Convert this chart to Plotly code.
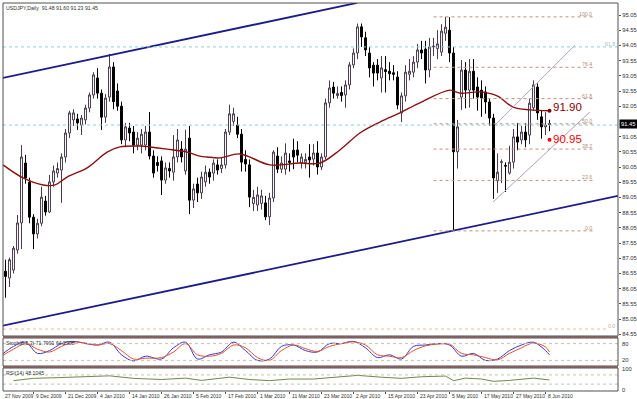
import plotly.graph_objects as go

# ---------------- data ----------------
title_text = "USDJPY,Daily  91.48 91.60 91.23 91.45"
tick_labels = ["27 Nov 2009", "9 Dec 2009", "21 Dec 2009", "4 Jan 2010", "14 Jan 2010",
               "26 Jan 2010", "5 Feb 2010", "17 Feb 2010", "1 Mar 2010", "11 Mar 2010",
               "23 Mar 2010", "2 Apr 2010", "15 Apr 2010", "23 Apr 2010", "5 May 2010",
               "17 May 2010", "27 May 2010", "8 Jun 2010"]
tick_bars = [0, 8, 16, 24, 32, 40, 48, 56, 64, 72, 80, 88, 96, 104, 112, 120, 128, 136]

opens = [86.30, 86.62, 86.40, 86.66, 87.32, 88.21, 90.18, 89.55, 88.40, 87.85,
         88.20, 88.93, 88.57, 89.56, 89.85, 89.95, 90.38, 91.17, 91.60, 91.63,
         91.43, 91.60, 91.99, 92.42, 92.98, 92.48, 91.69, 92.35, 93.34, 92.55,
         92.05, 90.94, 91.33, 91.20, 90.77, 90.77, 90.77, 91.20, 90.41, 90.20,
         90.25, 89.62, 90.00, 89.88, 90.38, 90.64, 89.92, 91.00, 88.96, 89.49,
         89.20, 89.56, 89.88, 89.85, 90.12, 90.00, 90.12, 91.20, 91.55, 91.43,
         91.13, 90.30, 90.12, 88.85, 88.80, 88.85, 88.87, 88.41, 89.03, 90.41,
         89.98, 89.98, 90.25, 90.60, 90.61, 90.18, 90.20, 90.38, 90.31, 90.51,
         90.05, 90.38, 92.16, 92.68, 92.40, 92.50, 92.42, 92.75, 93.41, 93.80,
         94.66, 94.30, 93.80, 93.40, 93.40, 92.98, 93.25, 93.20, 93.15, 93.01,
         91.83, 92.39, 93.10, 93.17, 93.50, 93.90, 93.93, 93.24, 94.00, 93.95,
         93.83, 94.45, 94.55, 93.80, 90.55, 92.35, 93.24, 92.58, 93.20, 92.68,
         92.58, 92.52, 92.19, 91.66, 89.60, 90.20, 90.10, 89.85, 90.21, 91.04,
         90.94, 91.20, 91.10, 92.00, 92.68, 91.70, 91.37, 91.48]
highs = [86.95, 87.00, 87.07, 87.45, 88.47, 90.77, 90.45, 89.70, 88.50, 88.35,
         89.40, 89.10, 89.79, 90.10, 90.20, 90.50, 91.30, 91.90, 91.95, 91.80,
         91.76, 92.10, 92.50, 93.17, 93.30, 92.60, 92.45, 93.77, 93.50, 92.80,
         92.20, 91.50, 91.50, 91.40, 91.20, 91.30, 91.40, 91.86, 90.60, 90.40,
         90.40, 90.20, 90.20, 91.10, 91.30, 90.90, 91.28, 91.40, 89.50, 89.70,
         89.90, 90.10, 90.00, 90.30, 90.30, 90.35, 91.30, 92.10, 92.00, 91.70,
         91.30, 90.60, 90.30, 89.30, 89.40, 89.30, 89.10, 89.20, 90.60, 90.70,
         90.40, 90.83, 90.50, 90.98, 90.90, 90.50, 90.50, 90.80, 90.80, 90.90,
         90.50, 92.30, 92.90, 92.85, 92.70, 92.70, 92.90, 93.50, 93.95, 94.77,
         94.77, 94.50, 94.00, 93.50, 93.60, 93.70, 93.70, 93.50, 93.40, 93.20,
         92.50, 93.40, 93.60, 93.70, 94.10, 94.20, 94.20, 94.30, 94.30, 94.55,
         94.75, 94.99, 94.98, 94.00, 91.60, 93.57, 93.50, 93.60, 93.60, 93.00,
         92.90, 92.70, 92.30, 91.80, 90.50, 90.30, 90.20, 90.75, 91.30, 91.50,
         91.40, 91.50, 92.30, 92.90, 92.80, 91.90, 91.85, 91.60]
lows = [85.80, 85.75, 86.10, 86.55, 87.20, 87.35, 89.50, 88.20, 87.35, 87.70,
        88.10, 88.45, 88.54, 89.40, 89.70, 88.87, 90.20, 91.00, 91.40, 91.27,
        91.10, 91.45, 91.85, 92.30, 92.30, 91.27, 91.50, 92.20, 91.95, 91.90,
        90.80, 90.70, 90.90, 90.50, 90.60, 90.50, 90.60, 90.30, 89.70, 89.90,
        89.13, 89.50, 89.70, 89.60, 90.20, 90.20, 89.80, 88.50, 88.70, 88.90,
        89.00, 89.40, 89.50, 89.60, 89.80, 89.85, 90.00, 91.10, 91.40, 91.00,
        89.90, 89.90, 88.73, 88.60, 88.60, 88.65, 88.30, 88.14, 88.90, 89.85,
        89.85, 89.80, 89.90, 89.98, 90.20, 90.00, 90.00, 89.70, 90.10, 89.80,
        89.95, 90.30, 92.00, 92.30, 92.30, 92.20, 92.00, 92.60, 93.30, 93.60,
        94.00, 93.70, 93.00, 92.70, 92.90, 92.50, 92.50, 92.90, 92.90, 91.95,
        91.53, 92.20, 92.90, 93.00, 93.30, 93.60, 92.80, 93.00, 93.70, 93.60,
        93.70, 94.20, 93.50, 87.95, 90.00, 91.93, 91.98, 92.00, 92.30, 91.90,
        91.70, 91.80, 91.40, 89.00, 89.20, 89.52, 89.23, 89.80, 90.00, 90.60,
        90.80, 90.70, 90.80, 91.90, 91.60, 90.98, 91.10, 91.23]
closes = [86.60, 86.45, 87.00, 87.38, 88.21, 90.38, 89.69, 88.40, 87.85, 88.20,
          89.06, 88.57, 89.56, 89.92, 90.00, 90.38, 91.17, 91.83, 91.83, 91.50,
          91.66, 91.99, 92.42, 93.08, 92.48, 91.69, 92.32, 93.34, 92.20, 92.05,
          90.94, 91.37, 91.17, 90.77, 91.00, 91.13, 91.20, 90.41, 89.85, 90.10,
          89.62, 90.02, 89.92, 90.38, 90.94, 90.38, 90.64, 88.96, 89.33, 89.20,
          89.72, 89.88, 89.72, 90.18, 89.95, 90.12, 91.20, 91.80, 91.80, 91.13,
          90.21, 90.15, 89.06, 89.05, 89.13, 89.10, 88.41, 89.03, 90.54, 89.98,
          90.18, 90.51, 90.20, 90.38, 90.44, 90.38, 90.30, 90.28, 90.51, 90.05,
          90.38, 92.16, 92.65, 92.48, 92.47, 92.40, 92.75, 93.41, 93.80, 94.66,
          94.33, 93.90, 93.31, 93.14, 93.14, 93.31, 93.19, 93.12, 93.10, 92.09,
          92.39, 93.17, 93.20, 93.50, 93.90, 93.80, 93.24, 94.00, 94.02, 94.10,
          94.52, 94.65, 93.80, 90.55, 91.37, 93.24, 92.58, 93.20, 92.58, 92.35,
          92.32, 92.19, 91.66, 89.69, 89.88, 90.22, 90.08, 90.21, 91.04, 90.87,
          91.20, 90.94, 92.15, 92.75, 91.83, 91.37, 91.43, 91.45]

# moving average read at sparse bars
ma_bars = [0.4, 5.4, 10.4, 13.4, 16.4, 21.4, 26.4, 29.6, 34.6, 37.1, 41.4, 46.4, 49.6, 51.4,
           54.6, 59.6, 67.1, 74.6, 79.6, 84.6, 89.6, 94.6, 99.6, 104.6, 112.1, 114.6, 119.6,
           123.9, 127.9, 132.1, 137]
ma_vals = [90.12, 89.69, 89.46, 89.46, 89.72, 90.02, 90.54, 90.71, 90.74, 90.71, 90.64, 90.54,
           90.41, 90.38, 90.35, 90.48, 90.12, 90.18, 90.18, 90.61, 91.17, 91.53, 91.83, 92.16,
           92.58, 92.48, 92.52, 92.39, 92.02, 91.93, 91.90]

# trend channels (bar, price)
big_upper = ([0.375, 88.9], [92.98, 95.45])
big_lower = ([0.0, 154.1], [84.82, 89.10])
small_upper = ([123.4, 143.4], [91.43, 94.06])
small_lower = ([122.9, 147.1], [88.90, 91.86])

fib_start, fib_end = 108.0, 148.0
fib_levels = ["0.0", "23.6", "38.2", "50.0", "61.8", "76.4", "100.0"]
fib_prices = [87.95, 89.61, 90.64, 91.47, 92.30, 93.33, 94.99]

hline_prices = [94.00, 91.43]
marks_prices = [91.90, 90.95]
marks_text = ["91.90", "90.95"]

# price scale labels (91.55 sits under the current-price box)
price_ticks = [84.55, 85.05, 85.55, 86.05, 86.55, 87.05, 87.55, 88.05, 88.55, 89.05, 89.55,
               90.05, 90.55, 91.05, 92.05, 92.55, 93.05, 93.55, 94.05, 94.55, 95.05]
last_price = 91.45

stoch_label = "Stoch(8,3,3) 71.7991 64.2308"
stoch_bars = [0, 3, 6, 9, 12, 15, 18, 21, 24, 27, 30, 33, 36, 40, 43, 46, 49, 52, 55, 58,
              61, 64, 67, 70, 73, 76, 79, 82, 85, 88, 91, 94, 97, 100, 103, 106, 109, 112,
              115, 118, 121, 124, 127, 130, 133, 136, 137]
stoch_main = [40, 70, 85, 45, 55, 80, 88, 80, 75, 85, 40, 18, 35, 25, 65, 85, 25, 40, 50, 85,
              55, 20, 25, 70, 75, 55, 50, 80, 80, 88, 65, 30, 40, 25, 70, 75, 80, 75, 35, 45,
              20, 25, 55, 75, 85, 55, 40]
stoch_signal = [35, 60, 80, 60, 50, 70, 85, 82, 75, 80, 55, 25, 28, 30, 50, 80, 40, 35, 45, 75,
                65, 30, 20, 55, 75, 62, 52, 70, 80, 86, 75, 40, 35, 30, 55, 72, 78, 78, 45, 40,
                30, 22, 45, 65, 82, 68, 50]
rsi_label = "RSI(14) 48.1045"
rsi_bars = [3, 8, 14, 20, 27, 33, 40, 46, 50, 57, 62, 67, 72, 78, 83, 89, 95, 100, 105, 111,
            113, 116, 120, 123, 127, 130, 133, 137]
rsi_vals = [45, 55, 58, 62, 66, 55, 50, 56, 46, 60, 50, 45, 52, 52, 60, 68, 60, 55, 62, 65,
            45, 56, 52, 42, 46, 50, 56, 48]

# ---------------- figure ----------------
W, H = 637, 399
ML, MR, MT, MB = 3, 19, 3, 8
PH = H - MT - MB
X0, X1 = 0.375, 154.125


def fy(ypix):
    return (H - MB - ypix) / PH


def fx(xpix):
    return (xpix - ML) / (W - ML - MR)


fig = go.Figure()
fig.add_trace(go.Candlestick(
    x=list(range(len(opens))), open=opens, high=highs, low=lows, close=closes,
    increasing=dict(line=dict(color="#4a3c4e", width=1), fillcolor="#ffffff"),
    decreasing=dict(line=dict(color="#000000", width=1), fillcolor="#000000"),
    whiskerwidth=0, showlegend=False, hoverinfo="skip"))
fig.add_trace(go.Scatter(x=ma_bars, y=ma_vals, mode="lines",
                         line=dict(color="#8b1010", width=1.4, shape="spline"), showlegend=False))
for xs, ys in (big_upper, big_lower):
    fig.add_trace(go.Scatter(x=xs, y=ys, mode="lines", line=dict(color="#1c1c8a", width=1.8),
                             showlegend=False))
for xs, ys in (small_upper, small_lower):
    fig.add_trace(go.Scatter(x=xs, y=ys, mode="lines", line=dict(color="#b0a0c0", width=1),
                             showlegend=False))
fig.add_trace(go.Scatter(x=[137, 137], y=marks_prices, mode="markers",
                         marker=dict(color=["#8b0000", "#ff0000"], size=4), showlegend=False))

fig.add_trace(go.Scatter(x=stoch_bars, y=stoch_main, yaxis="y2", mode="lines",
                         line=dict(color="#3838d0", width=1, shape="spline"), showlegend=False))
fig.add_trace(go.Scatter(x=stoch_bars, y=stoch_signal, yaxis="y2", mode="lines",
                         line=dict(color="#e0502a", width=1, shape="spline"),
                         showlegend=False))
fig.add_trace(go.Scatter(x=rsi_bars, y=rsi_vals, yaxis="y3", mode="lines",
                         line=dict(color="#6b8a4a", width=1), showlegend=False))

shapes = []
for p in fib_prices:
    shapes.append(dict(type="line", xref="x", yref="y", x0=fib_start, x1=fib_end, y0=p, y1=p,
                       line=dict(color="#c09080", width=1, dash="dot")))
for p in hline_prices:
    shapes.append(dict(type="line", xref="paper", yref="y", x0=0, x1=1, y0=p, y1=p,
                       line=dict(color="#90d0d0", width=1, dash="dot")))
shapes.append(dict(type="line", xref="paper", yref="y", x0=0, x1=0.985, y0=84.72, y1=84.72,
                   line=dict(color="#e0c0a0", width=1, dash="dot")))
for lv in (80, 20):
    shapes.append(dict(type="line", xref="paper", yref="y2", x0=0, x1=1, y0=lv, y1=lv,
                       line=dict(color="#c8c0b0", width=1, dash="dot")))
for lv in (70, 30):
    shapes.append(dict(type="line", xref="paper", yref="y3", x0=0, x1=1, y0=lv, y1=lv,
                       line=dict(color="#c8c0b0", width=1, dash="dot")))
# panel frames
for y0, y1 in ((fy(336), 1), (fy(366), fy(338)), (0, fy(368))):
    shapes.append(dict(type="rect", xref="paper", yref="paper", x0=0, x1=1, y0=y0, y1=y1,
                       line=dict(color="#505050", width=1)))
shapes.append(dict(type="rect", xref="paper", yref="paper", x0=0, x1=1, y0=fy(338), y1=fy(336),
                   line=dict(width=0), fillcolor="#806060"))
shapes.append(dict(type="rect", xref="paper", yref="paper", x0=0, x1=1, y0=fy(368), y1=fy(366),
                   line=dict(width=0), fillcolor="#806060"))

ann = []
FONT = "Liberation Sans"
SMALL = dict(family=FONT, size=5.2, color="#303030")
AX = dict(family=FONT, size=5.8, color="#303030")
ann.append(dict(xref="paper", yref="paper", x=fx(4), y=fy(3), text=title_text, showarrow=False,
                xanchor="left", yanchor="top", font=SMALL))
ann.append(dict(xref="paper", yref="paper", x=fx(4), y=fy(338), text=stoch_label, showarrow=False,
                xanchor="left", yanchor="top", font=SMALL))
ann.append(dict(xref="paper", yref="paper", x=fx(4), y=fy(368), text=rsi_label, showarrow=False,
                xanchor="left", yanchor="top", font=SMALL))
for b, t in zip(tick_bars, tick_labels):
    ann.append(dict(xref="x", yref="paper", x=max(b, X0 + 0.01), y=0, text=t, showarrow=False,
                    xanchor="left", yanchor="top", xshift=0, yshift=0,
                    font=dict(family=FONT, size=5, color="#303030")))
for lvl, p in zip(fib_levels, fib_prices):
    ann.append(dict(xref="x", yref="y", x=fib_end, y=p, text=lvl, showarrow=False,
                    xanchor="right", yanchor="bottom", yshift=-2,
                    font=dict(family=FONT, size=5.2, color="#b09080")))
ann.append(dict(xref="paper", yref="y", x=0.998, y=94.0, text="61.8", showarrow=False,
                xanchor="right", yanchor="bottom", yshift=-2,
                font=dict(family=FONT, size=5.2, color="#a0c0c0")))
ann.append(dict(xref="paper", yref="y", x=0.998, y=84.72, text="0.0", showarrow=False,
                xanchor="right", yanchor="bottom", yshift=-2,
                font=dict(family=FONT, size=5.2, color="#c0b0a0")))
for p, t, c in zip(marks_prices, marks_text, ["#8b0000", "#ff0000"]):
    ann.append(dict(xref="x", yref="y", x=137, y=p, text=t, showarrow=False, xanchor="left",
                    yanchor="middle", xshift=1, yshift=4 if t == "91.90" else 1,
                    font=dict(family=FONT, size=11.5, color=c)))
ann.append(dict(xref="paper", yref="y", x=1, y=last_price, text="91.45", showarrow=False,
                xanchor="left", yanchor="middle", bgcolor="#000000", borderpad=1, xshift=1,
                font=dict(family=FONT, size=5.8, color="#ffffff")))
for lv, yy in (("80", 80), ("20", 20)):
    ann.append(dict(xref="paper", yref="y2", x=1, y=yy, text=lv, showarrow=False, xanchor="left",
                    xshift=2, font=AX))
for lv, yy in (("100", 96), ("0", 6)):
    ann.append(dict(xref="paper", yref="y3", x=1, y=yy, text=lv, showarrow=False, xanchor="left",
                    xshift=2, font=AX))

fig.update_layout(
    width=W, height=H, margin=dict(l=ML, r=MR, t=MT, b=MB, autoexpand=False),
    paper_bgcolor="#ffffff", plot_bgcolor="#ffffff", showlegend=False,
    xaxis=dict(range=[X0, X1], anchor="y3", showgrid=False, zeroline=False,
               automargin=False,
               rangeslider=dict(visible=False), tickvals=tick_bars, ticks="outside", ticklen=2,
               tickcolor="#505050", showticklabels=False),
    yaxis=dict(domain=[fy(336), 1], range=[84.491, 95.445], side="right", showgrid=False,
               zeroline=False, automargin=False,
               tickvals=price_ticks, ticktext=[f"{v:.2f}" for v in price_ticks],
               ticks="outside", ticklen=2, tickcolor="#505050", tickfont=AX),
    yaxis2=dict(domain=[fy(366), fy(338)], range=[0, 100], showgrid=False, zeroline=False,
                showticklabels=False, automargin=False),
    yaxis3=dict(domain=[0, fy(368)], range=[0, 100], showgrid=False, zeroline=False,
                showticklabels=False, automargin=False),
    shapes=shapes, annotations=ann)

fig.write_html("out.html", config={"displayModeBar": False},
               post_script="document.body.style.margin='0px';"
               "document.body.style.overflow='hidden';")
